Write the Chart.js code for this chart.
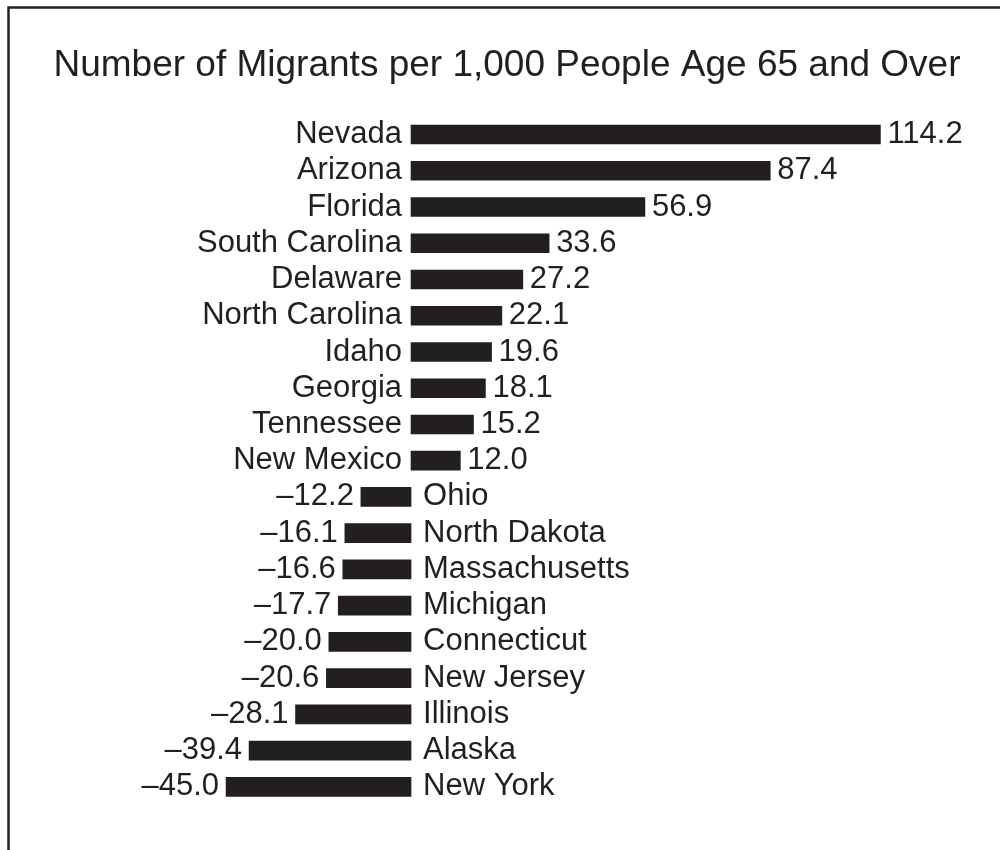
<!DOCTYPE html>
<html>
<head>
<meta charset="utf-8">
<script src="https://cdn.jsdelivr.net/npm/chart.js@4"></script>
<style>
  html, body { margin: 0; padding: 0; background: #fff; overflow: hidden; }
  #wrap { width: 1000px; height: 850px; }
</style>
</head>
<body>
<div id="wrap"><canvas id="migrantChart" width="1000" height="850"></canvas></div>
<script>
// states, top to bottom
const states = ['Nevada', 'Arizona', 'Florida', 'South Carolina', 'Delaware', 'North Carolina',
  'Idaho', 'Georgia', 'Tennessee', 'New Mexico', 'Ohio', 'North Dakota', 'Massachusetts',
  'Michigan', 'Connecticut', 'New Jersey', 'Illinois', 'Alaska', 'New York'];

// migrants per 1,000 people age 65+
const migrants = [114.2, 87.4, 56.9, 33.6, 27.2, 22.1, 19.6, 18.1, 15.2, 12.0,
  -12.2, -16.1, -16.6, -17.7, -20.0, -20.6, -28.1, -39.4, -45.0];

const ink = '#231f20';
const labelFont = '31px "Liberation Sans", Arial, Helvetica, sans-serif';

// frame: only top and left edges show inside the picture
const framePlugin = {
  id: 'frame',
  beforeDraw(chart) {
    const c = chart.ctx;
    c.save();
    c.strokeStyle = ink;
    c.lineWidth = 2.5;
    c.beginPath();
    c.moveTo(8.5, 860);
    c.lineTo(8.5, 7.5);
    c.lineTo(1010, 7.5);
    c.stroke();
    c.restore();
  }
};

// state names and values next to each bar
const barLabels = {
  id: 'barLabels',
  afterDatasetsDraw(chart) {
    const c = chart.ctx;
    const meta = chart.getDatasetMeta(0);
    c.save();
    c.font = labelFont;
    c.fillStyle = ink;
    c.textBaseline = 'middle';
    meta.data.forEach((bar, i) => {
      const v = migrants[i];
      const txt = (v < 0 ? '\u2013' : '') + Math.abs(v).toFixed(1);
      if (v >= 0) {
        c.textAlign = 'right';
        c.fillText(states[i], bar.base - 9, bar.y);
        c.textAlign = 'left';
        c.fillText(txt, bar.x + 7, bar.y);
      } else {
        c.textAlign = 'right';
        c.fillText(txt, bar.x - 7, bar.y);
        c.textAlign = 'left';
        c.fillText(states[i], bar.base + 12, bar.y);
      }
    });
    c.restore();
  }
};

const ctx = document.getElementById('migrantChart').getContext('2d');

const migrantChart = new Chart(ctx, {
  type: 'bar',
  data: {
    labels: states,
    datasets: [{
      data: migrants,
      backgroundColor: ink,
      borderWidth: 0,
      barThickness: 19
    }]
  },
  options: {
    indexAxis: 'y',
    responsive: false,
    animation: false,
    layout: {
      padding: { left: 14, right: 0, top: 0, bottom: 45 }
    },
    scales: {
      x: { display: false, min: -96.6, max: 143.3 },
      y: { display: false }
    },
    plugins: {
      legend: { display: false },
      tooltip: { enabled: false },
      title: {
        display: true,
        text: 'Number of Migrants per 1,000 People Age 65 and Over',
        color: ink,
        font: { family: '"Liberation Sans", Arial, Helvetica, sans-serif', size: 37, weight: 'normal' },
        padding: { top: 44, bottom: 28 }
      }
    }
  },
  plugins: [framePlugin, barLabels]
});
</script>
</body>
</html>
